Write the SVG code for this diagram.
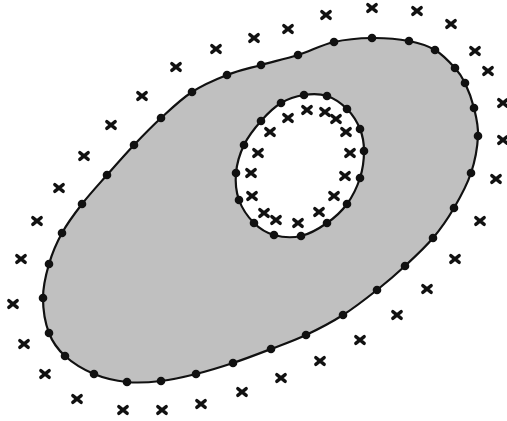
<svg xmlns="http://www.w3.org/2000/svg" xmlns:xlink="http://www.w3.org/1999/xlink" width="507" height="421" viewBox="0 0 507 421">
<style>
.contour{stroke:#111;stroke-width:2.2;stroke-linejoin:round}
.outer{fill:#c0c0c0}
.inner{fill:#fff}
.dot{fill:#111}
.x{stroke:#111;stroke-width:3.3;stroke-linecap:round;fill:none}
</style>
<defs>
<symbol id="dot" overflow="visible"><circle r="4.3" class="dot"/></symbol>
<symbol id="cross" overflow="visible"><path class="x" d="M-4.2,-3.4 L4.2,3.4 M-4.2,3.4 L4.2,-3.4"/></symbol>
</defs>
<rect width="507" height="421" fill="#fff"/>
<g id="outer-region">
<path class="contour outer" d="M82,204 C89.5,194.33 98.33,184.83 107,175 C115.67,165.17 125,154.5 134,145 C143,135.5 151.33,126.83 161,118 C170.67,109.17 181,99.17 192,92 C203,84.83 215.5,79.5 227,75 C238.5,70.5 249.17,68.33 261,65 C272.83,61.67 285.83,58.83 298,55 C310.17,51.17 321.670,44.83 334,42 C346.33,39.17 359.5,38.17 372,38 C384.5,37.83 398.5,39 409,41 C419.5,43 427.33,45.5 435,50 C442.67,54.5 450,62.5 455,68 C460,73.5 461.83,76.33 465,83 C468.17,89.67 471.83,99.17 474,108 C476.17,116.83 478.5,125.17 478,136 C477.5,146.83 475,161 471,173 C467,185 460.33,197.17 454,208 C447.67,218.83 441.17,228.33 433,238 C424.83,247.67 414.33,257.33 405,266 C395.67,274.67 387.33,281.83 377,290 C366.67,298.17 354.83,307.5 343,315 C331.17,322.5 318,329.33 306,335 C294,340.67 283.17,344.33 271,349 C258.83,353.67 245.5,358.83 233,363 C220.5,367.17 208,371 196,374 C184,377 172.5,379.67 161,381 C149.5,382.33 138.17,383.17 127,382 C115.83,380.83 104.33,378.33 94,374 C83.67,369.67 72.5,362.83 65,356 C57.5,349.17 52.67,342.67 49,333 C45.33,323.33 43,309.5 43,298 C43,286.5 45.83,274.83 49,264 C52.17,253.17 56.5,243 62,233 C67.5,223 74.5,213.67 82,204 Z"/>
</g>
<g id="inner-region">
<path class="contour inner" d="M304,95 C311.67,93.83 319.83,93.67 327,96 C334.17,98.33 341.5,103.5 347,109 C352.5,114.5 357.17,122 360,129 C362.83,136 364,142.83 364,151 C364,159.17 362.83,169.17 360,178 C357.17,186.83 352.5,196.5 347,204 C341.5,211.5 334.67,217.67 327,223 C319.33,228.33 309.83,234 301,236 C292.17,238 281.83,237.17 274,235 C266.17,232.83 259.83,228.83 254,223 C248.17,217.17 242,208.33 239,200 C236,191.67 235.17,182.17 236,173 C236.83,163.83 239.83,153.67 244,145 C248.17,136.33 254.83,128 261,121 C267.17,114 273.83,107.33 281,103 C288.17,98.67 296.33,96.17 304,95 Z"/>
</g>
<g id="outer-dots">
<use href="#dot" x="82" y="204"/><use href="#dot" x="107" y="175"/><use href="#dot" x="134" y="145"/><use href="#dot" x="161" y="118"/><use href="#dot" x="192" y="92"/><use href="#dot" x="227" y="75"/><use href="#dot" x="261" y="65"/><use href="#dot" x="298" y="55"/><use href="#dot" x="334" y="42"/><use href="#dot" x="372" y="38"/><use href="#dot" x="409" y="41"/><use href="#dot" x="435" y="50"/><use href="#dot" x="455" y="68"/><use href="#dot" x="465" y="83"/><use href="#dot" x="474" y="108"/><use href="#dot" x="478" y="136"/><use href="#dot" x="471" y="173"/><use href="#dot" x="454" y="208"/><use href="#dot" x="433" y="238"/><use href="#dot" x="405" y="266"/><use href="#dot" x="377" y="290"/><use href="#dot" x="343" y="315"/><use href="#dot" x="306" y="335"/><use href="#dot" x="271" y="349"/><use href="#dot" x="233" y="363"/><use href="#dot" x="196" y="374"/><use href="#dot" x="161" y="381"/><use href="#dot" x="127" y="382"/><use href="#dot" x="94" y="374"/><use href="#dot" x="65" y="356"/><use href="#dot" x="49" y="333"/><use href="#dot" x="43" y="298"/><use href="#dot" x="49" y="264"/><use href="#dot" x="62" y="233"/>
</g>
<g id="inner-dots">
<use href="#dot" x="304" y="95"/><use href="#dot" x="327" y="96"/><use href="#dot" x="347" y="109"/><use href="#dot" x="360" y="129"/><use href="#dot" x="364" y="151"/><use href="#dot" x="360" y="178"/><use href="#dot" x="347" y="204"/><use href="#dot" x="327" y="223"/><use href="#dot" x="301" y="236"/><use href="#dot" x="274" y="235"/><use href="#dot" x="254" y="223"/><use href="#dot" x="239" y="200"/><use href="#dot" x="236" y="173"/><use href="#dot" x="244" y="145"/><use href="#dot" x="261" y="121"/><use href="#dot" x="281" y="103"/>
</g>
<g id="outer-crosses">
<use href="#cross" x="254" y="38"/><use href="#cross" x="216" y="49"/><use href="#cross" x="176" y="67"/><use href="#cross" x="142" y="96"/><use href="#cross" x="111" y="125"/><use href="#cross" x="84" y="156"/><use href="#cross" x="59" y="188"/><use href="#cross" x="37" y="221"/><use href="#cross" x="21" y="259"/><use href="#cross" x="13" y="304"/><use href="#cross" x="24" y="344"/><use href="#cross" x="45" y="374"/><use href="#cross" x="77" y="399"/><use href="#cross" x="123" y="410"/><use href="#cross" x="162" y="410"/><use href="#cross" x="201" y="404"/><use href="#cross" x="242" y="392"/><use href="#cross" x="281" y="378"/><use href="#cross" x="320" y="361"/><use href="#cross" x="360" y="340"/><use href="#cross" x="397" y="315"/><use href="#cross" x="427" y="289"/><use href="#cross" x="455" y="259"/><use href="#cross" x="480" y="221"/><use href="#cross" x="496" y="179"/><use href="#cross" x="503" y="140"/><use href="#cross" x="503" y="103"/><use href="#cross" x="488" y="71"/><use href="#cross" x="475" y="51"/><use href="#cross" x="451" y="24"/><use href="#cross" x="417" y="11"/><use href="#cross" x="372" y="8"/><use href="#cross" x="326" y="15"/><use href="#cross" x="288" y="29"/>
</g>
<g id="inner-crosses">
<use href="#cross" x="307" y="110"/><use href="#cross" x="325" y="112"/><use href="#cross" x="336" y="119"/><use href="#cross" x="346" y="132"/><use href="#cross" x="350" y="153"/><use href="#cross" x="345" y="176"/><use href="#cross" x="334" y="196"/><use href="#cross" x="319" y="212"/><use href="#cross" x="298" y="223"/><use href="#cross" x="276" y="220"/><use href="#cross" x="264" y="213"/><use href="#cross" x="252" y="196"/><use href="#cross" x="251" y="173"/><use href="#cross" x="258" y="153"/><use href="#cross" x="270" y="132"/><use href="#cross" x="288" y="118"/>
</g>
</svg>
